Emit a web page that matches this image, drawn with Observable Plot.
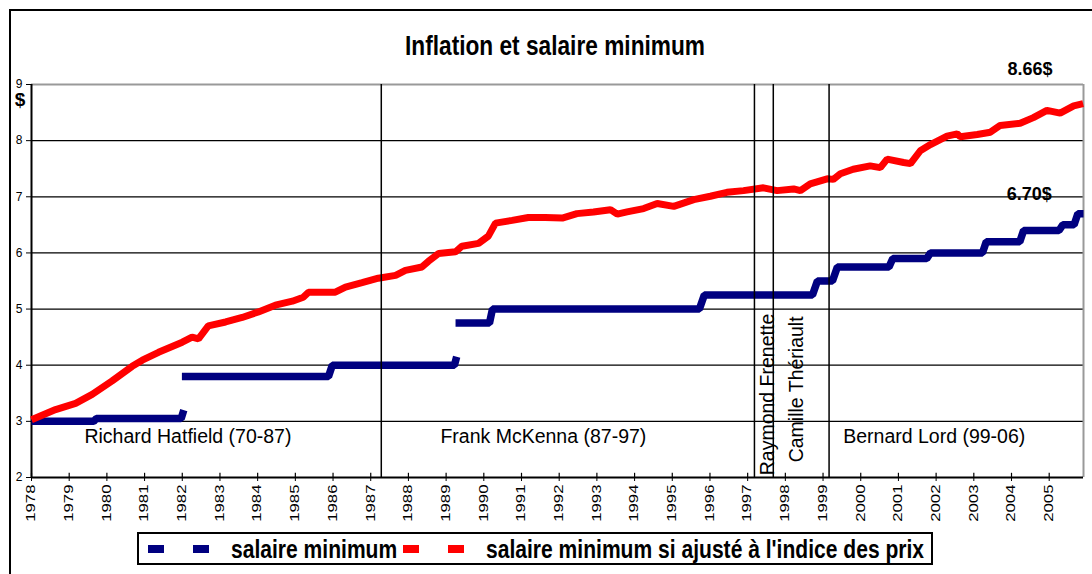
<!DOCTYPE html>
<html>
<head>
<meta charset="utf-8">
<script src="https://cdn.jsdelivr.net/npm/d3@7"></script>
<script src="https://cdn.jsdelivr.net/npm/@observablehq/plot@0.6"></script>
<style>
html, body { margin: 0; padding: 0; background: #fff; width: 1092px; height: 574px; overflow: hidden;
  font-family: "Liberation Sans", Arial, sans-serif; }
#frame { position: absolute; left: 9px; top: 9px; width: 1110px; height: 620px; border: 2px solid #000; box-sizing: border-box; }
#title { position: absolute; left: 305px; width: 500px; top: 32px; text-align: center; font-weight: bold;
  font-size: 28px; line-height: 28px; transform: scaleX(0.81); transform-origin: 50% 50%; color: #000; white-space: nowrap; }
#chart { position: absolute; left: 0; top: 58px; }
#legend { position: absolute; left: 137px; top: 532px; width: 796px; height: 33px; border: 2px solid #000; box-sizing: border-box; background: #fff; }
#legend .dash { position: absolute; top: 11px; width: 16px; height: 8px; }
#legend .txt { position: absolute; top: 1px; font-weight: bold; font-size: 26px; line-height: 28px; white-space: nowrap;
  transform: scaleX(0.81); transform-origin: 0 50%; color: #000; }
</style>
</head>
<body>
<div id="frame"></div>
<div id="title"></div>
<div id="chart"></div>
<div id="legend"></div>
<script>
// ---- Data ----
const chartTitle = "Inflation et salaire minimum";
const seriesNames = ["salaire minimum", "salaire minimum si ajusté à l'indice des prix"];
const seriesColors = ["#000080", "#FF0000"];

// minimum wage (step changes; null marks a break in the line)
const wageYears = [1978.00, 1979.65, 1979.72, 1981.97, 1982.04, 1982.04, 1981.99, 1985.88, 1985.98, 1989.22, 1989.28, 1989.28,
  1989.25, 1990.15, 1990.23, 1995.72, 1995.85, 1998.72, 1998.85, 1999.25, 1999.38, 2000.75, 2000.85,
  2001.75, 2001.85, 2003.23, 2003.33, 2004.22, 2004.32, 2005.26, 2005.36, 2005.66, 2005.76, 2005.91];
const wageValues = [3.00, 3.00, 3.05, 3.05, 3.20, null, 3.80, 3.80, 4.00, 4.00, 4.15, null,
  4.75, 4.75, 5.00, 5.00, 5.25, 5.25, 5.50, 5.50, 5.75, 5.75, 5.90,
  5.90, 6.00, 6.00, 6.20, 6.20, 6.40, 6.40, 6.50, 6.50, 6.70, 6.70];

// minimum wage adjusted to the price index
const adjYears = [1978.00, 1978.64, 1979.17, 1979.61, 1980.14, 1980.67, 1980.94, 1981.37, 1982.00, 1982.26, 1982.43, 1982.69,
  1983.15, 1983.59, 1984.02, 1984.47, 1984.92, 1985.21, 1985.35, 1986.06, 1986.33, 1986.77, 1987.20, 1987.66,
  1987.92, 1988.36, 1988.53, 1988.80, 1989.25, 1989.42, 1989.86, 1990.12, 1990.31, 1990.75, 1991.18, 1991.63,
  1992.08, 1992.47, 1992.91, 1993.36, 1993.54, 1993.80, 1994.24, 1994.60, 1995.04, 1995.57, 1996.01, 1996.45,
  1996.89, 1997.42, 1997.78, 1998.22, 1998.40, 1998.66, 1999.11, 1999.27, 1999.46, 1999.80, 2000.25, 2000.52,
  2000.70, 2001.14, 2001.32, 2001.58, 2001.85, 2002.29, 2002.56, 2002.64, 2003.09, 2003.44, 2003.70, 2004.23,
  2004.58, 2004.94, 2005.29, 2005.65, 2005.90];
const adjValues = [3.03, 3.21, 3.32, 3.48, 3.72, 3.98, 4.09, 4.23, 4.41, 4.50, 4.47, 4.70,
  4.77, 4.85, 4.95, 5.07, 5.14, 5.21, 5.30, 5.30, 5.39, 5.47, 5.55, 5.60,
  5.69, 5.75, 5.85, 5.99, 6.02, 6.12, 6.17, 6.30, 6.53, 6.58, 6.63, 6.63,
  6.62, 6.70, 6.73, 6.77, 6.69, 6.73, 6.79, 6.88, 6.83, 6.95, 7.01, 7.08,
  7.11, 7.16, 7.11, 7.14, 7.11, 7.23, 7.32, 7.31, 7.41, 7.49, 7.55, 7.52,
  7.67, 7.61, 7.59, 7.82, 7.93, 8.08, 8.12, 8.07, 8.11, 8.15, 8.27, 8.31,
  8.41, 8.54, 8.49, 8.62, 8.66];

const yearTicks = [1978, 1979, 1980, 1981, 1982, 1983, 1984, 1985, 1986, 1987, 1988, 1989, 1990, 1991,
  1992, 1993, 1994, 1995, 1996, 1997, 1998, 1999, 2000, 2001, 2002, 2003, 2004, 2005];
const valueTicks = [2, 3, 4, 5, 6, 7, 8, 9];
const xDomain = [1978, 2005.91];

// premiers: change dates and labels
const premierChangeYears = [1987.28, 1997.18, 1997.68, 1999.16];
const premierNames = ["Richard Hatfield (70-87)", "Frank McKenna (87-97)", "Bernard Lord (99-06)"];
const premierNameYears = [1982.15, 1991.58, 2001.95];
const premierNameValue = 2.73;
const shortPremierNames = ["Raymond Frenette", "Camille Thériault"];
const shortPremierYears = [1997.52, 1998.29];
const shortPremierStart = [2.04, 2.27];

// end-value labels
const endLabels = ["8.66$", "6.70$"];
const endLabelYears = [2004.49, 2004.47];
const endLabelValues = [9.27, 7.05];
const unitLabel = "$";

// ---- Build tables ----
const wage = wageYears.map((x, i) => ({x, y: wageValues[i] == null ? NaN : wageValues[i]}));
const adj = adjYears.map((x, i) => ({x, y: adjValues[i]}));
const premiers = premierNames.map((t, i) => ({t, x: premierNameYears[i], y: premierNameValue}));
const shortPremiers = shortPremierNames.map((t, i) => ({t, x: shortPremierYears[i], y: shortPremierStart[i]}));
const ends = endLabels.map((t, i) => ({t, x: endLabelYears[i], y: endLabelValues[i]}));
const font = "'Liberation Sans', Arial, sans-serif";

document.getElementById("title").textContent = chartTitle;

const chart = Plot.plot({
  width: 1092,
  height: 472,
  marginTop: 26,
  marginBottom: 53,
  marginLeft: 31,
  marginRight: 9,
  style: {fontFamily: font, fontSize: "12px", color: "#000", background: "transparent", overflow: "visible"},
  x: {domain: xDomain, ticks: yearTicks, tickFormat: d => String(d), tickRotate: -90, tickSize: 4, tickPadding: 3, label: null},
  y: {domain: [2, 9], ticks: valueTicks, tickFormat: d => String(d), tickSize: 5, tickPadding: 4, label: null},
  marks: [
    Plot.text(ends, {x: "x", y: "y", text: "t", fontWeight: "bold", fontSize: 18, fill: "#000"}),
    Plot.ruleY(valueTicks.filter(v => v > 2 && v < 9), {stroke: "#000", strokeWidth: 1.3}),
    Plot.ruleY([9], {stroke: "#999", strokeWidth: 2}),
    Plot.ruleX([xDomain[1]], {y1: 2, y2: 9, stroke: "#999", strokeWidth: 2}),
    Plot.ruleX([xDomain[0]], {y1: 2, y2: 9, stroke: "#000", strokeWidth: 2}),
    Plot.ruleY([2], {stroke: "#000", strokeWidth: 2}),
    Plot.ruleX(yearTicks, {x: d => d, y1: 2, y2: 2.075, stroke: "#000", strokeWidth: 1.2}),
    Plot.line(wage, {x: "x", y: "y", stroke: seriesColors[0], strokeWidth: 7.5, strokeLinejoin: "miter", strokeLinecap: "butt"}),
    Plot.line(adj, {x: "x", y: "y", stroke: seriesColors[1], strokeWidth: 7, strokeLinejoin: "bevel", strokeLinecap: "butt"}),
    Plot.ruleX(premierChangeYears, {y1: 2, y2: 9, stroke: "#000", strokeWidth: 1.5}),
    Plot.text(premiers, {x: "x", y: "y", text: "t", fontSize: 19.5, fill: "#000"}),
    Plot.text(shortPremiers, {x: "x", y: "y", text: "t", rotate: -90, textAnchor: "start", fontSize: 19.5, fill: "#000"}),
    Plot.text([unitLabel], {x: xDomain[0], y: 8.72, text: d => d, dx: -11.5, fontWeight: "bold", fontSize: 19, fill: "#000"})
  ]
});
document.getElementById("chart").appendChild(chart);

// stretch the rotated year labels along their length, as in the reference
chart.querySelectorAll('g[aria-label="x-axis tick label"] text').forEach(t => {
  const tr = t.getAttribute("transform") || "";
  t.setAttribute("transform", tr + " scale(1.4,1)");
});

// legend
const legend = document.getElementById("legend");
const dashLefts = [[9, 54], [264, 309]];
const textLefts = [92, 347];
seriesNames.forEach((name, i) => {
  dashLefts[i].forEach(l => {
    const d = document.createElement("span");
    d.className = "dash";
    d.style.left = l + "px";
    d.style.background = seriesColors[i];
    legend.appendChild(d);
  });
  const s = document.createElement("span");
  s.className = "txt";
  s.style.left = textLefts[i] + "px";
  s.textContent = name;
  legend.appendChild(s);
});
</script>
</body>
</html>
